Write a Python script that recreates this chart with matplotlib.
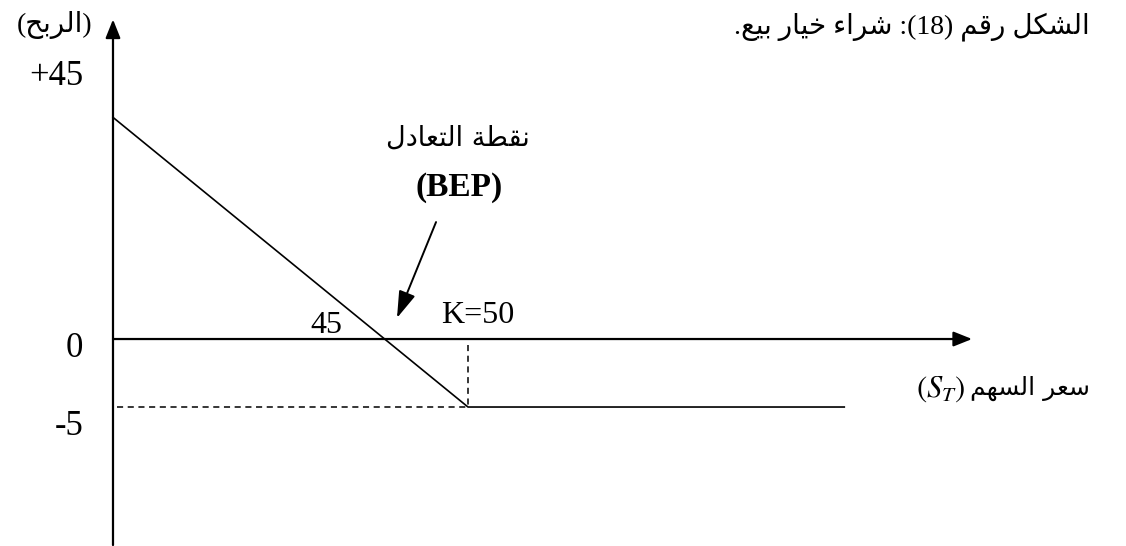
import matplotlib
matplotlib.use("Agg")
import matplotlib.pyplot as plt

plt.rcParams["mathtext.fontset"] = "stix"

# payoff of a bought put (schematic units as drawn)
strike = 50
payoff_x = [0, strike, 103]
payoff_y = [16.3, -5, -5]
xaxis_end = 121
yaxis_range = [-15.15, 23.5]

# y labels and where they sit
y_labels = ["+45", "0", "-5"]
y_label_pos = [18.7, -1.3, -7.05]

# arabic letters -> (isolated, final, initial, medial) presentation forms
FORMS = {
    "\u0621": ("\uFE80", None, None, None),
    "\u0627": ("\uFE8D", "\uFE8E", None, None),
    "\u0628": ("\uFE8F", "\uFE90", "\uFE91", "\uFE92"),
    "\u0629": ("\uFE93", "\uFE94", None, None),
    "\u062A": ("\uFE95", "\uFE96", "\uFE97", "\uFE98"),
    "\u062D": ("\uFEA1", "\uFEA2", "\uFEA3", "\uFEA4"),
    "\u062E": ("\uFEA5", "\uFEA6", "\uFEA7", "\uFEA8"),
    "\u062F": ("\uFEA9", "\uFEAA", None, None),
    "\u0631": ("\uFEAD", "\uFEAE", None, None),
    "\u0633": ("\uFEB1", "\uFEB2", "\uFEB3", "\uFEB4"),
    "\u0634": ("\uFEB5", "\uFEB6", "\uFEB7", "\uFEB8"),
    "\u0637": ("\uFEC1", "\uFEC2", "\uFEC3", "\uFEC4"),
    "\u0639": ("\uFEC9", "\uFECA", "\uFECB", "\uFECC"),
    "\u0642": ("\uFED5", "\uFED6", "\uFED7", "\uFED8"),
    "\u0643": ("\uFED9", "\uFEDA", "\uFEDB", "\uFEDC"),
    "\u0644": ("\uFEDD", "\uFEDE", "\uFEDF", "\uFEE0"),
    "\u0645": ("\uFEE1", "\uFEE2", "\uFEE3", "\uFEE4"),
    "\u0646": ("\uFEE5", "\uFEE6", "\uFEE7", "\uFEE8"),
    "\u0647": ("\uFEE9", "\uFEEA", "\uFEEB", "\uFEEC"),
    "\u064A": ("\uFEF1", "\uFEF2", "\uFEF3", "\uFEF4"),
}


def rtl(s):
    # contextual shaping, then visual (left to right) order
    out = []
    for i, ch in enumerate(s):
        if ch not in FORMS:
            out.append(ch)
            continue
        f = FORMS[ch]
        prev = s[i - 1] if i > 0 else ""
        nxt = s[i + 1] if i + 1 < len(s) else ""
        join_prev = prev in FORMS and FORMS[prev][2] is not None and f[1] is not None
        join_next = f[2] is not None and nxt in FORMS and FORMS[nxt][1] is not None
        if join_prev and join_next:
            out.append(f[3])
        elif join_prev:
            out.append(f[1])
        elif join_next:
            out.append(f[2])
        else:
            out.append(f[0])
    vis = "".join(reversed(out))
    vis = vis.translate(str.maketrans("()", ")("))
    # keep digit runs left to right
    res, run = "", ""
    for ch in vis:
        if ch.isdigit():
            run += ch
        else:
            res += run[::-1] + ch
            run = ""
    return res + run[::-1]


title = "الشكل رقم (18): شراء خيار بيع."
ylab = "(الربح)"
xlab = "سعر السهم"
bep_ar = "نقطة التعادل"

fig = plt.figure(figsize=(11.26, 5.46), dpi=100)
ax = fig.add_axes([0, 0, 1, 1])
ax.set_xlim(-15.915, 142.68)
ax.set_ylim(-15.22, 24.93)
ax.axis("off")

arrow = dict(arrowstyle="-|>,head_length=0.75,head_width=0.3", color="black",
             lw=1.6, mutation_scale=15, shrinkA=0, shrinkB=0)
ax.annotate("", xy=(0, yaxis_range[1]), xytext=(0, yaxis_range[0]), arrowprops=arrow)
ax.annotate("", xy=(xaxis_end, 0), xytext=(0, 0), arrowprops=arrow)

ax.plot(payoff_x, payoff_y, color="black", lw=1.2)
ax.plot([strike, strike], [-0.45, payoff_y[1]], color="black", lw=1.1, ls=(0, (4, 3)))
ax.plot([0.5, strike], [payoff_y[1], payoff_y[1]], color="black", lw=1.1, ls=(0, (4, 3)))

serif = ["Liberation Serif", "DejaVu Sans"]
for lab, pos in zip(y_labels, y_label_pos):
    ax.text(-4.2, pos, lab, ha="right", va="baseline", fontsize=25, family=serif)

ax.text(-2.9, 22.6, rtl(ylab), ha="right", va="baseline", fontsize=20, family=serif)
ax.text(137.6, 22.5, rtl(title), ha="right", va="baseline", fontsize=20, family=serif)
ax.text(48.6, 14.2, rtl(bep_ar), ha="center", va="baseline", fontsize=19.5, family=["DejaVu Sans"])
ax.text(48.7, 10.5, "(BEP)", ha="center", va="baseline", fontsize=24, family=serif, weight="bold")
ax.annotate("", xy=(40.0, 1.55), xytext=(45.5, 8.6),
            arrowprops=dict(arrowstyle="-|>,head_length=1.1,head_width=0.35", color="black",
                            lw=1.4, mutation_scale=15, shrinkA=0, shrinkB=0))
ax.text(30.1, 0.45, "45", ha="center", va="baseline", fontsize=23, family=serif)
ax.text(51.4, 1.2, "K=50", ha="center", va="baseline", fontsize=23, family=serif)

ax.text(137.6, -4.1, rtl(xlab), ha="right", va="baseline", fontsize=18, family=["DejaVu Sans"])
ax.text(116.6, -4.2, r"$(S_T)$", ha="center", va="baseline", fontsize=22)

fig.savefig("out.png", dpi=100)
